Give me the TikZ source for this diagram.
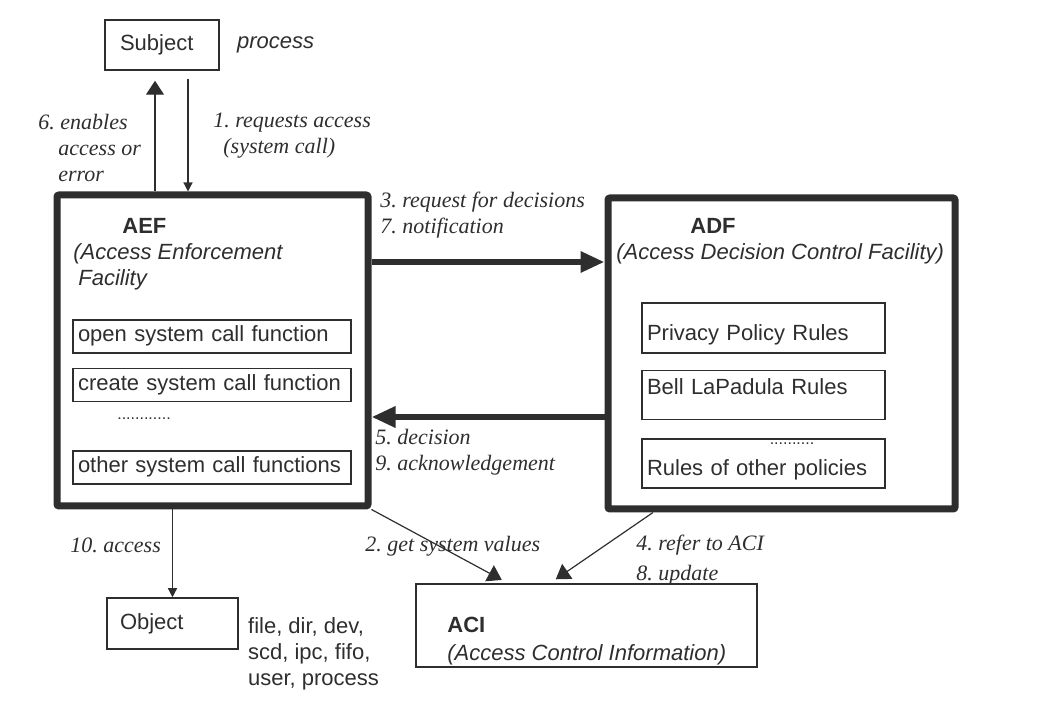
\documentclass[tikz,border=0pt]{standalone}
\usepackage{fontspec}
\setmainfont{Liberation Sans}
\newfontfamily\timesfont{Liberation Serif}
\usetikzlibrary{positioning, arrows.meta}

\colorlet{ink}{black!82}
\frenchspacing

\begin{document}
\begin{tikzpicture}[
        x=0.5pt, y=-0.5pt,
        font=\fontsize{11}{13}\selectfont, text=ink,
        facility/.style={draw=ink, line width=3.5pt, rounded corners=1pt},
        box/.style={draw=ink, line width=0.75pt, align=left, inner ysep=0pt},
        fnbox/.style={box, inner xsep=2.5pt},
        msg/.style={font=\fontsize{11}{13}\selectfont\timesfont\itshape, align=left, inner sep=0pt, anchor=west},
        arrow/.style={draw=ink, line width=0.6pt, -{Triangle[length=4.5pt, width=4.5pt]}},
        bigarrow/.style={draw=ink, line width=0.6pt, -{Triangle[length=7pt, width=9pt]}},
        fatarrow/.style={draw=ink, line width=3pt, -{Triangle[length=12pt, width=10pt]}}
    ]
    \useasboundingbox (0,0) rectangle (1057,716);

    \node[box, inner xsep=7.5pt, text width=42pt, minimum height=25pt] (subject) at (162,45) {Subject};
    \node[right=8.5pt of subject, inner sep=0pt, font=\fontsize{11}{13}\selectfont\itshape] (process) {process};

    \node[facility, minimum width=155.5pt, minimum height=155.5pt] (aef) at (212.5,350.5) {};
    \node[inner sep=0pt, align=left, anchor=west] (aeftitle) at (73,254)
        {\hspace*{24.5pt}\textbf{AEF}\\\textit{(Access Enforcement}\\\hspace*{2.5pt}\textit{Facility}};
    \node[fnbox, text width=134pt, text height=11pt, text depth=5.5pt] (open) at (212,336.5) {open system call function};
    \node[fnbox, text width=134pt, text height=11pt, text depth=5.5pt, below=7pt of open] (create) {create system call function};
    \node[inner sep=0pt, font=\fontsize{8}{9}\selectfont] (aefdots) at (144,419) {............};
    \node[fnbox, text width=134pt, text height=11pt, text depth=5.5pt, below=24pt of create] (other) {other system call functions};

    \node[facility, minimum width=173.5pt, minimum height=155.5pt] (adf) at (781.5,353.5) {};
    \node[inner sep=0pt, align=left, anchor=west] (adftitle) at (616,241.5)
        {\hspace*{37pt}\textbf{ADF}\\\textit{(Access Decision Control Facility)}};
    \node[fnbox, text width=116.5pt, text height=19pt, text depth=6pt] (privacy) at (763.5,328) {Privacy Policy Rules};
    \node[fnbox, text width=116.5pt, text height=12pt, text depth=12.5pt, below=8pt of privacy] (bell) {Bell LaPadula Rules};
    \node[fnbox, text width=116.5pt, text height=18.5pt, text depth=6pt, below=9pt of bell] (otherrules) {Rules of other policies};
    \node[inner sep=0pt, font=\fontsize{8}{9}\selectfont] (adfdots) at (792,444) {..........};

    \node[box, inner xsep=6.5pt, text width=52.5pt, minimum height=25.5pt] (object) at (172.5,623.5) {Object};
    \node[right=4.5pt of object, yshift=-15pt, inner sep=0pt, align=left] (objtypes)
        {file, dir, dev,\\scd, ipc, fifo,\\user, process};

    \node[box, minimum width=170.5pt, minimum height=41.5pt] (aci) at (586.5,625.5) {};
    \node[inner sep=0pt, align=left, anchor=west] (acititle) at (447,641.5)
        {\textbf{ACI}\\[1pt]\textit{(Access Control Information)}};

    \node[msg] (l6) at (38,148) {6. enables\\\hspace*{10pt}access or\\\hspace*{10pt}error};
    \node[msg] (l1) at (213,136) {1. requests access\\\hspace*{5pt}(system call)};
    \node[msg] (l3) at (380,215) {3. request for decisions\\7. notification};
    \node[msg] (l5) at (375,452) {5. decision\\9. acknowledgement};
    \node[msg] (l10) at (70,545) {10. access};
    \node[msg] (l2) at (365,546) {2. get system values};
    \node[msg] (l4) at (636,560) {4. refer to ACI\\[2pt]8. update};

    \draw[bigarrow] ([xshift=-3.5pt]subject.south |- aef.north) -- ([xshift=-3.5pt,yshift=-5pt]subject.south);
    \draw[arrow] ([xshift=13pt,yshift=-4pt]subject.south) -- ([xshift=13pt]subject.south |- aef.north);
    \draw[fatarrow] ([yshift=44.25pt]aef.east) -- ([yshift=44.25pt]aef.east -| adf.west);
    \draw[fatarrow] ([yshift=-33.25pt]aef.east -| adf.west) -- ([yshift=-33.25pt]aef.east);
    \draw[arrow] (object.north |- aef.south) -- (object.north);
    \draw[bigarrow, shorten >=3.5pt] (aef.south east) -- ([xshift=-39.25pt]aci.north);
    \draw[bigarrow, shorten >=3.5pt] ([xshift=-64.25pt]adf.south) -- ([xshift=-18.25pt]aci.north);
\end{tikzpicture}
\end{document}
